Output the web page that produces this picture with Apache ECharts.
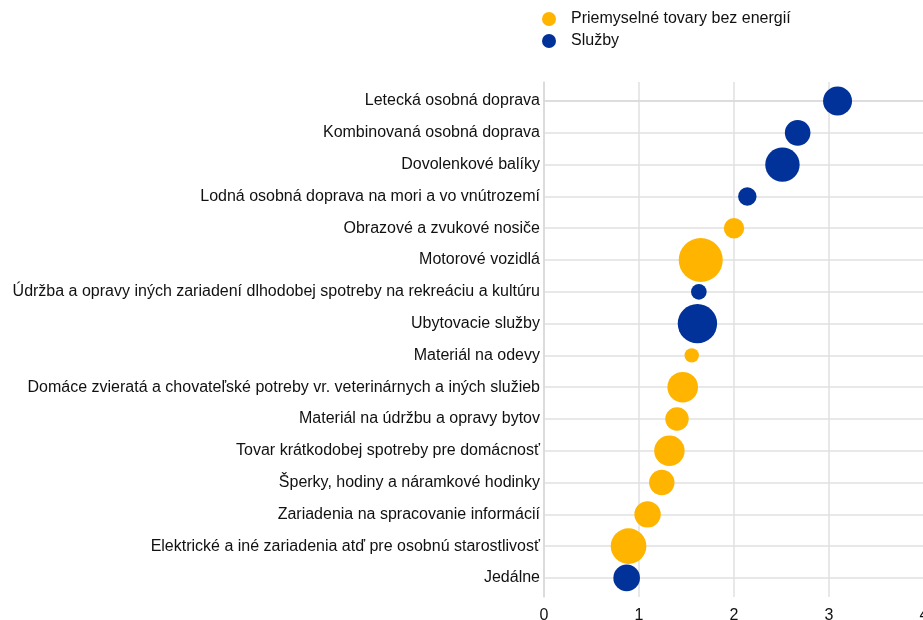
<!DOCTYPE html>
<html>
<head>
<meta charset="utf-8">
<script src="https://cdn.jsdelivr.net/npm/echarts@6/dist/echarts.min.js"></script>
<style>
html,body{margin:0;padding:0;background:#fff;}
#chart{width:923px;height:620px;}
</style>
</head>
<body>
<div id="chart"></div>
<script>
// Categories top to bottom
var categories = [
  "Letecká osobná doprava",
  "Kombinovaná osobná doprava",
  "Dovolenkové balíky",
  "Lodná osobná doprava na mori a vo vnútrozemí",
  "Obrazové a zvukové nosiče",
  "Motorové vozidlá",
  "Údržba a opravy iných zariadení dlhodobej spotreby na rekreáciu a kultúru",
  "Ubytovacie služby",
  "Materiál na odevy",
  "Domáce zvieratá a chovateľské potreby vr. veterinárnych a iných služieb",
  "Materiál na údržbu a opravy bytov",
  "Tovar krátkodobej spotreby pre domácnosť",
  "Šperky, hodiny a náramkové hodinky",
  "Zariadenia na spracovanie informácií",
  "Elektrické a iné zariadenia atď pre osobnú starostlivosť",
  "Jedálne"
];
// x values
var values = [3.09, 2.67, 2.51, 2.14, 2.00, 1.65, 1.63, 1.615, 1.555, 1.46, 1.40, 1.32, 1.24, 1.09, 0.89, 0.87];
// bubble weights
var weights = [21.0, 16.4, 29.6, 8.5, 10.4, 48.4, 6.1, 38.8, 5.2, 23.4, 13.7, 23.1, 16.1, 17.4, 31.7, 17.7];
// group: G = Priemyselné tovary bez energií, S = Služby
var groups = ["S","S","S","S","G","G","S","S","G","G","G","G","G","G","G","S"];
var seriesNames = ["Priemyselné tovary bez energií", "Služby"];
var xTicks = [0, 1, 2, 3, 4];

var catIdx = categories.map(function (c, i) { return i; });
function pts(g) {
  var out = [];
  for (var i = 0; i < categories.length; i++) {
    if (groups[i] === g) out.push([values[i], i, weights[i]]);
  }
  return out;
}
var sizeFn = function (d) { return 2 * Math.sqrt(10 * d[2]); };

var chart = echarts.init(document.getElementById('chart'));
chart.setOption({
  animation: false,
  textStyle: { fontFamily: 'Liberation Sans, Arial, sans-serif' },
  legend: {
    orient: 'vertical',
    left: 537, top: 6,
    itemWidth: 34, itemHeight: 14, itemGap: 6,
    icon: 'circle',
    textStyle: { fontSize: 16, color: '#111' },
    data: seriesNames
  },
  grid: { left: 544, right: -1, top: 82, bottom: 23, containLabel: false, outerBoundsMode: 'none' },
  xAxis: {
    type: 'value', min: xTicks[0], max: xTicks[xTicks.length - 1], interval: 1,
    axisLine: { show: true, lineStyle: { color: '#d9d9d9', width: 1.5 } },
    axisTick: { show: false },
    axisLabel: { fontSize: 16, color: '#111', margin: 11 },
    splitLine: { show: true, lineStyle: { color: '#e0e0e0', width: 1.5 } }
  },
  yAxis: {
    type: 'value', inverse: true, min: -0.6, max: 15.6,
    axisLine: { show: true, onZero: false, lineStyle: { color: '#d9d9d9', width: 1.5 } },
    axisTick: { show: false, customValues: catIdx },
    axisLabel: {
      fontSize: 16, color: '#111', margin: 4, padding: [0, 0, 5, 0],
      customValues: catIdx,
      formatter: function (v) { return categories[Math.round(v)] || ''; }
    },
    splitLine: { show: true, lineStyle: { color: '#e0e0e0', width: 1.5 } }
  },
  series: [
    { name: seriesNames[0], type: 'scatter', data: pts('G'), symbolSize: sizeFn,
      itemStyle: { color: '#FFB400', opacity: 1 }, z: 3 },
    { name: seriesNames[1], type: 'scatter', data: pts('S'), symbolSize: sizeFn,
      itemStyle: { color: '#003299', opacity: 1 }, z: 3 }
  ]
});
</script>
</body>
</html>
